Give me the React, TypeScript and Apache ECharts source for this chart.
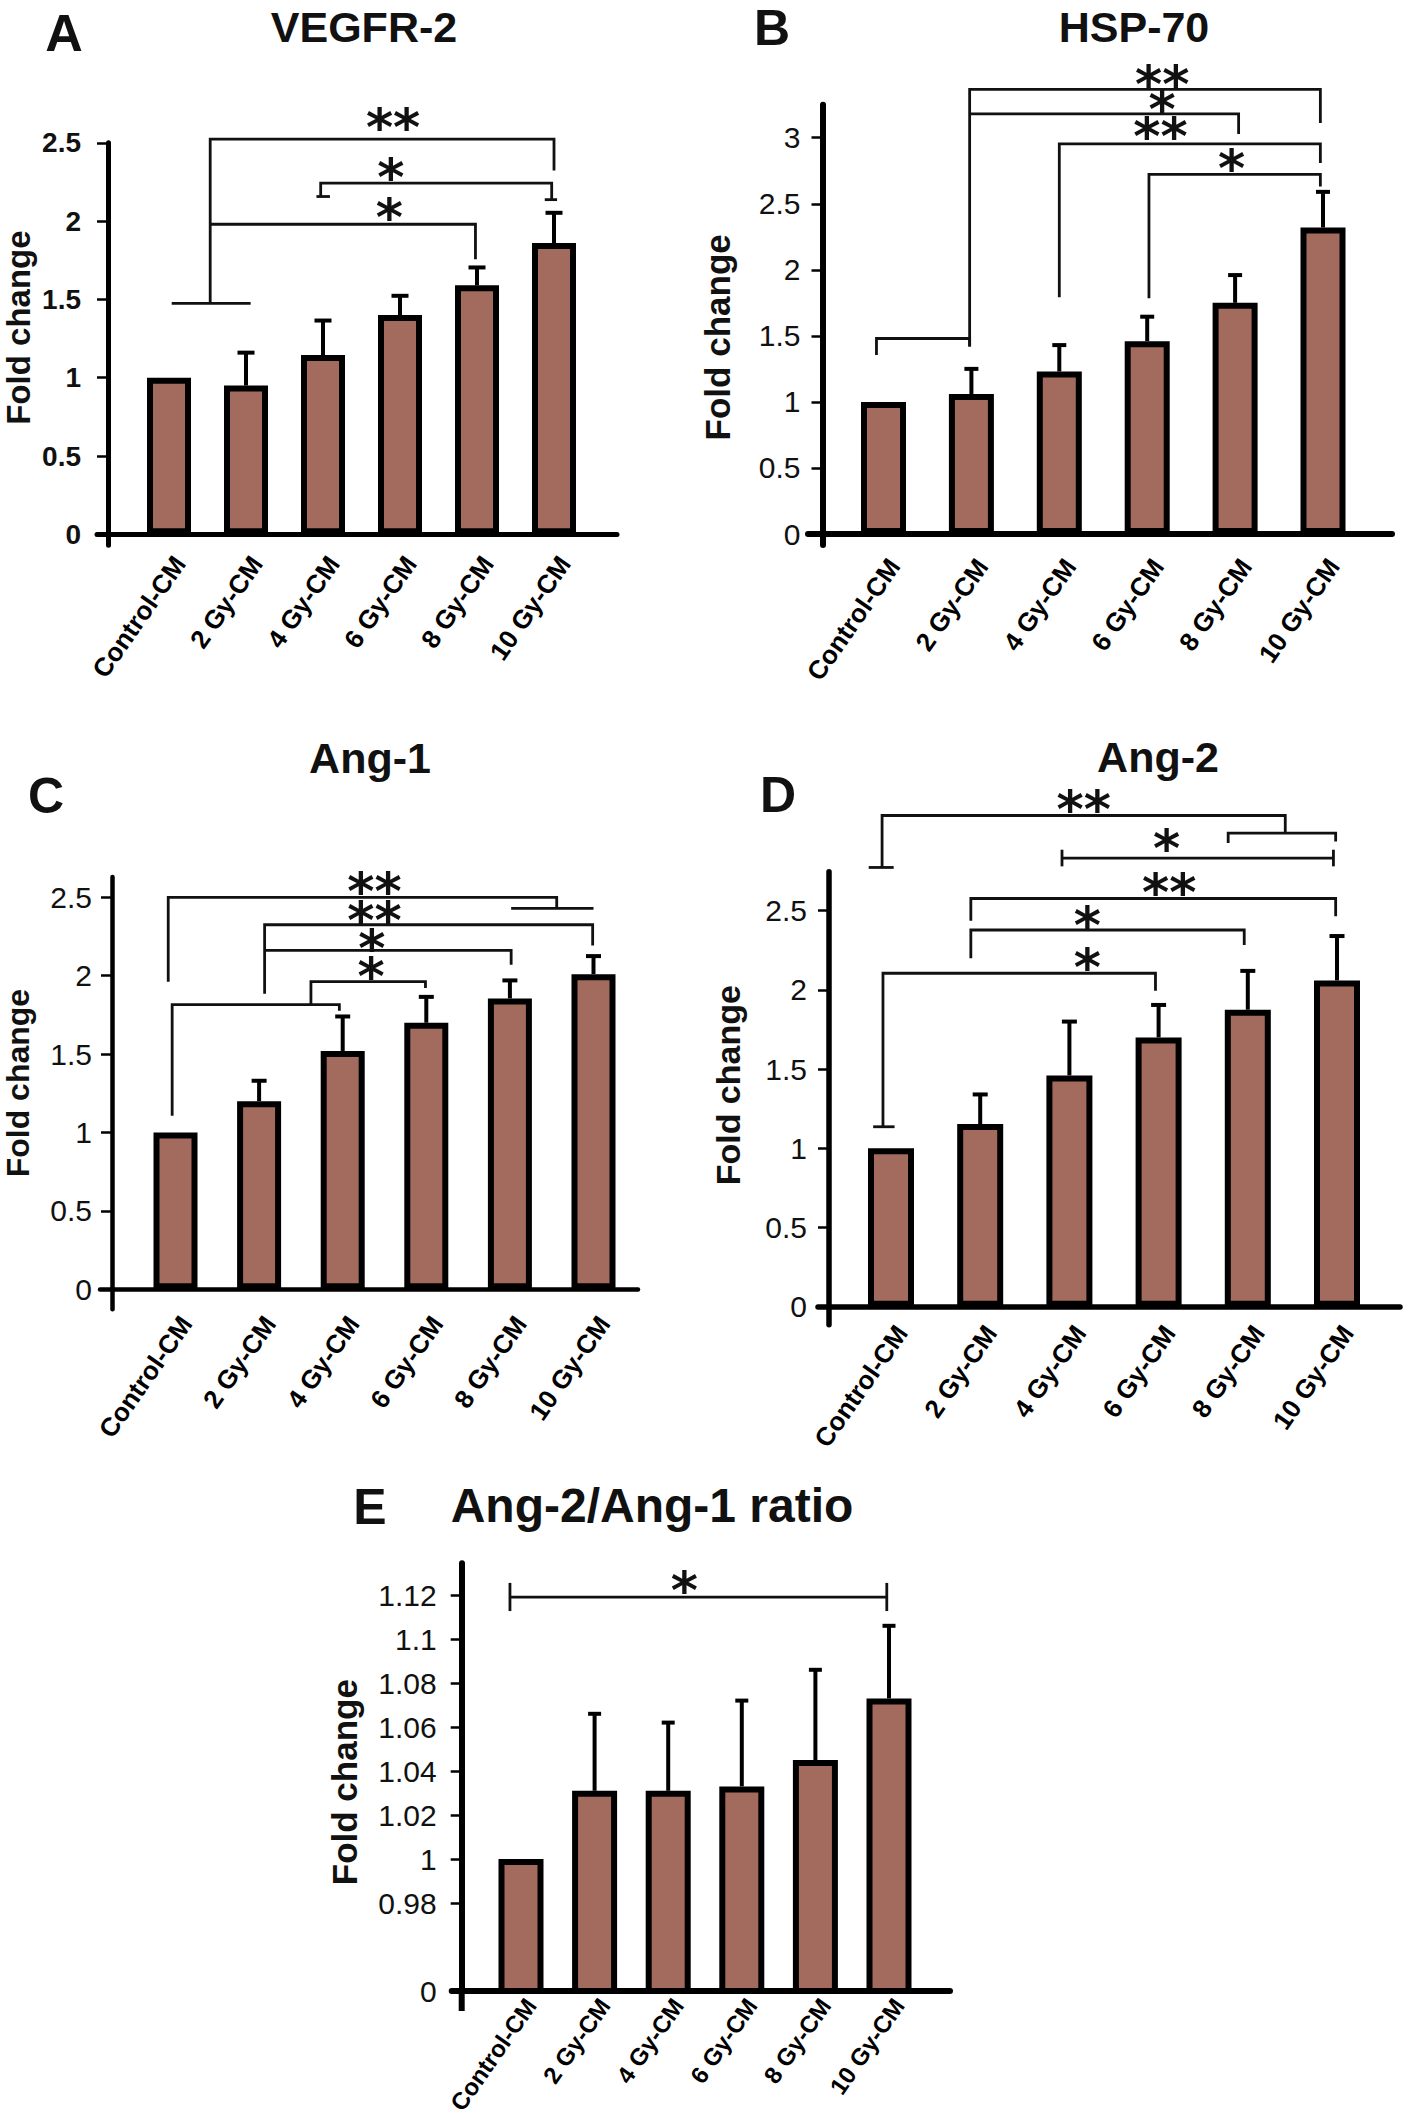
import React, { useEffect, useRef } from 'react';
import * as echarts from 'echarts';

// ---------------- data ----------------
const categories = ['Control-CM', '2 Gy-CM', '4 Gy-CM', '6 Gy-CM', '8 Gy-CM', '10 Gy-CM'];

const vegfrMean = [1.0, 0.95, 1.145, 1.4, 1.59, 1.86];
const vegfrErr = [0, 0.21, 0.22, 0.123, 0.114, 0.193];

const hspMean = [1.0, 1.06, 1.23, 1.46, 1.75, 2.32];
const hspErr = [0, 0.19, 0.2, 0.185, 0.21, 0.27];

const ang1Mean = [1.0, 1.2, 1.52, 1.7, 1.855, 2.01];
const ang1Err = [0, 0.13, 0.22, 0.165, 0.115, 0.115];

const ang2Mean = [1.0, 1.153, 1.46, 1.7, 1.875, 2.06];
const ang2Err = [0, 0.187, 0.34, 0.205, 0.245, 0.28];

const ratioMean = [1.0, 1.031, 1.031, 1.033, 1.045, 1.073];
const ratioErr = [0, 0.035, 0.031, 0.039, 0.041, 0.033];

const ticksA = [0, 0.5, 1, 1.5, 2, 2.5];
const ticksB = [0, 0.5, 1, 1.5, 2, 2.5, 3];
const ticksC = [0, 0.5, 1, 1.5, 2, 2.5];
const ticksD = [0, 0.5, 1, 1.5, 2, 2.5];
// panel E has a broken axis: the bottom tick is labelled "0"
const ticksE = [0.94, 0.98, 1, 1.02, 1.04, 1.06, 1.08, 1.1, 1.12];
const tickLabelsE = ['0', '0.98', '1', '1.02', '1.04', '1.06', '1.08', '1.1', '1.12'];

// significance brackets: polylines in (category index, value) units, label and its position
type Bracket = { lines: number[][][]; label?: string; at?: number[] };

const bracketsA: Bracket[] = [
  { lines: [[[0.035, 1.475], [1.06, 1.475]]] },
  { lines: [[[0.535, 1.475], [0.535, 2.524], [5.0, 2.524], [5.0, 2.323]]], label: '**', at: [2.91, 2.639] },
  {
    lines: [
      [[1.97, 2.157], [1.97, 2.243], [4.97, 2.243], [4.97, 2.137]],
      [[1.915, 2.157], [2.09, 2.157]],
      [[4.88, 2.137], [5.04, 2.137]],
    ],
    label: '*', at: [2.88, 2.323],
  },
  { lines: [[[0.535, 1.98], [3.98, 1.98], [3.98, 1.756]]], label: '*', at: [2.86, 2.064] },
];

const bracketsB: Bracket[] = [
  { lines: [[[-0.08, 1.355], [-0.08, 1.48], [0.98, 1.48], [0.98, 1.42]]] },
  { lines: [[[0.98, 1.42], [0.98, 3.366], [4.97, 3.366], [4.97, 3.112]]], label: '**', at: [3.17, 3.451] },
  { lines: [[[0.98, 3.18], [4.04, 3.18], [4.04, 3.028]]], label: '*', at: [3.17, 3.265] },
  { lines: [[[2.0, 1.793], [2.0, 2.953], [4.97, 2.953], [4.97, 2.808]]], label: '**', at: [3.15, 3.062] },
  { lines: [[[3.02, 1.784], [3.02, 2.723], [4.97, 2.723], [4.97, 2.63]]], label: '*', at: [3.96, 2.815] },
];

const bracketsC: Bracket[] = [
  {
    lines: [
      [[-0.087, 1.962], [-0.087, 2.5], [4.56, 2.5], [4.56, 2.43]],
      [[4.015, 2.43], [5.0, 2.43]],
    ],
    label: '**', at: [2.38, 2.577],
  },
  { lines: [[[1.066, 1.885], [1.066, 2.325], [4.99, 2.325], [4.99, 2.193]]], label: '**', at: [2.38, 2.392] },
  { lines: [[[1.066, 2.162], [4.015, 2.162], [4.015, 2.07]]], label: '*', at: [2.35, 2.214] },
  { lines: [[[1.62, 1.815], [1.62, 1.962], [2.99, 1.962], [2.99, 1.922]]], label: '*', at: [2.34, 2.039] },
  { lines: [[[-0.04, 1.107], [-0.04, 1.815], [1.96, 1.815], [1.96, 1.777]]] },
];

const bracketsD: Bracket[] = [
  {
    lines: [
      [[-0.1, 2.773], [-0.1, 3.101], [4.42, 3.101], [4.42, 2.99]],
      [[-0.25, 2.773], [0.03, 2.773]],
    ],
    label: '**', at: [2.16, 3.18],
  },
  { lines: [[[3.78, 2.927], [3.78, 2.99], [4.985, 2.99], [4.985, 2.937]]] },
  {
    lines: [
      [[1.917, 2.832], [4.96, 2.832]],
      [[1.917, 2.78], [1.917, 2.885]],
      [[4.96, 2.78], [4.96, 2.885]],
    ],
    label: '*', at: [3.09, 2.937],
  },
  { lines: [[[0.895, 2.437], [0.895, 2.577], [4.985, 2.577], [4.985, 2.465]]], label: '**', at: [3.12, 2.657] },
  { lines: [[[0.895, 2.2], [0.895, 2.378], [3.96, 2.378], [3.96, 2.283]]], label: '*', at: [2.2, 2.448] },
  {
    lines: [
      [[-0.09, 1.136], [-0.09, 2.105], [2.965, 2.105], [2.965, 1.994]],
      [[-0.2, 1.136], [0.04, 1.136]],
    ],
    label: '*', at: [2.2, 2.185],
  },
];

const bracketsE: Bracket[] = [
  {
    lines: [
      [[-0.15, 1.119], [4.97, 1.119]],
      [[-0.15, 1.1127], [-0.15, 1.1255]],
      [[4.97, 1.1127], [4.97, 1.1255]],
    ],
    label: '*', at: [2.22, 1.1252],
  },
];

// ---------------- styling / layout ----------------
const FONT = '"Liberation Sans", Arial, Helvetica, sans-serif';
const STAR_FONT = '"DejaVu Sans", sans-serif';
const STAR_SIZE = 52;
const BAR_FILL = '#a36b5e';

interface Layout {
  xStart: number; xEnd: number; yAxisX: number; zeroY: number; pxPerUnit: number;
  yBase: number; yMax: number; ext: number; bar0: number; step: number; barW: number;
  axisW: number; tickFont: number; tickBold: boolean; tickMargin: number;
  nameGap: number; nameSize: number; namePadL: number; namePadR: number;
  labelMargin: number; labelSize: number; capW: number;
}

const layoutA: Layout = {
  xStart: 97, xEnd: 617, yAxisX: 108, zeroY: 534.3, pxPerUnit: 156.6, yBase: 0, yMax: 2.5, ext: 11,
  bar0: 169, step: 77, barW: 44, axisW: 5, tickFont: 28, tickBold: true, tickMargin: 27,
  nameGap: 73, nameSize: 33, namePadL: 33, namePadR: 0, labelMargin: 6, labelSize: 26, capW: 17,
};
const layoutB: Layout = {
  xStart: 808, xEnd: 1392, yAxisX: 822.5, zeroY: 534, pxPerUnit: 132.1, yBase: 0, yMax: 3.25, ext: 11,
  bar0: 883.5, step: 87.9, barW: 45, axisW: 6, tickFont: 30, tickBold: false, tickMargin: 22,
  nameGap: 88, nameSize: 35, namePadL: 0, namePadR: 25, labelMargin: 9, labelSize: 26, capW: 14,
};
const layoutC: Layout = {
  xStart: 100, xEnd: 638, yAxisX: 112, zeroY: 1289.3, pxPerUnit: 156.8, yBase: 0, yMax: 2.63, ext: 20,
  bar0: 175.5, step: 83.6, barW: 44, axisW: 4.5, tickFont: 30, tickBold: false, tickMargin: 20,
  nameGap: 78, nameSize: 32, namePadL: 20, namePadR: 0, labelMargin: 2, labelSize: 26, capW: 15,
};
const layoutD: Layout = {
  xStart: 818, xEnd: 1400, yAxisX: 829, zeroY: 1306.7, pxPerUnit: 158.4, yBase: 0, yMax: 2.746, ext: 18,
  bar0: 891, step: 89.2, barW: 46, axisW: 5.5, tickFont: 30, tickBold: false, tickMargin: 22,
  nameGap: 84, nameSize: 34, namePadL: 26, namePadR: 0, labelMargin: -4, labelSize: 26, capW: 15,
};
const layoutE: Layout = {
  xStart: 451.7, xEnd: 950, yAxisX: 461.7, zeroY: 1991, pxPerUnit: 2200, yBase: 0.94, yMax: 1.1344, ext: 0,
  bar0: 521, step: 73.6, barW: 45, axisW: 6, tickFont: 30, tickBold: false, tickMargin: 25,
  nameGap: 100, nameSize: 35, namePadL: 0, namePadR: 10, labelMargin: 3, labelSize: 24, capW: 13,
};

function buildPanel(
  i: number, L: Layout, mean: number[], err: number[], ticks: number[],
  tickLabels: string[] | null, brackets: Bracket[],
) {
  const gridTop = L.zeroY - (L.yMax - L.yBase) * L.pxPerUnit;
  const gridBottom = L.zeroY + L.ext;
  const grid = {
    left: L.xStart, top: gridTop, width: L.xEnd - L.xStart, height: gridBottom - gridTop,
    containLabel: false, outerBoundsMode: 'none',
  };
  const xAxis = {
    type: 'value', gridIndex: i,
    min: (L.xStart - L.bar0) / L.step, max: (L.xEnd - L.bar0) / L.step,
    axisLine: { show: true, onZero: true, lineStyle: { color: '#000', width: L.axisW } },
    axisTick: { show: false },
    splitLine: { show: false },
    axisLabel: {
      customValues: categories.map((_, k) => k),
      formatter: (v: number) => categories[Math.round(v)] || '',
      rotate: 55, align: 'right', verticalAlign: 'top', margin: L.labelMargin,
      fontFamily: FONT, fontWeight: 'bold', fontSize: L.labelSize, color: '#000',
    },
  };
  const yAxis = {
    type: 'value', gridIndex: i,
    min: L.yBase - L.ext / L.pxPerUnit, max: L.yMax,
    offset: -(L.yAxisX - L.xStart),
    axisLine: { show: true, onZero: false, lineStyle: { color: '#000', width: L.axisW } },
    axisTick: { show: true, customValues: ticks, length: 11, lineStyle: { color: '#000', width: 2.5 } },
    splitLine: { show: false },
    axisLabel: {
      customValues: ticks,
      formatter: (v: number) => {
        if (tickLabels) {
          const k = ticks.findIndex((t) => Math.abs(t - v) < 1e-6);
          return k >= 0 ? tickLabels[k] : '';
        }
        return String(parseFloat(v.toFixed(2)));
      },
      margin: L.tickMargin, fontFamily: FONT, fontSize: L.tickFont,
      fontWeight: L.tickBold ? 'bold' : 'normal', color: '#111',
    },
    name: 'Fold change', nameLocation: 'middle', nameGap: L.nameGap, nameRotate: 90,
    nameTextStyle: {
      fontFamily: FONT, fontWeight: 'bold', fontSize: L.nameSize, color: '#111',
      lineHeight: L.nameSize, padding: [0, L.namePadR, 0, L.namePadL],
    },
  };
  const bars = {
    type: 'bar', xAxisIndex: i, yAxisIndex: i,
    data: mean.map((v, k) => [k, v]),
    barWidth: L.barW,
    itemStyle: { color: BAR_FILL, borderColor: '#000', borderWidth: 6 },
    z: 2, silent: true,
  };
  const errorBars = {
    type: 'custom', xAxisIndex: i, yAxisIndex: i, clip: false, z: 3, silent: true,
    data: mean.map((v, k) => [k, v, err[k]]),
    encode: { x: 0, y: 1 },
    renderItem: (params: any, api: any) => {
      const x = api.value(0);
      const v = api.value(1);
      const e = api.value(2);
      if (!e) return null;
      const base = api.coord([x, v]);
      const top = api.coord([x, v + e]);
      return {
        type: 'group',
        children: [
          { type: 'line', shape: { x1: base[0], y1: base[1], x2: top[0], y2: top[1] }, style: { stroke: '#000', lineWidth: 4 } },
          { type: 'line', shape: { x1: top[0] - L.capW / 2, y1: top[1], x2: top[0] + L.capW / 2, y2: top[1] }, style: { stroke: '#000', lineWidth: 4 } },
        ],
      };
    },
  };
  const bracketSeries = {
    type: 'custom', xAxisIndex: i, yAxisIndex: i, clip: false, z: 4, silent: true,
    data: brackets.map((b) => b.lines[0][0]),
    encode: { x: 0, y: 1 },
    renderItem: (params: any, api: any) => {
      const b = brackets[params.dataIndex];
      const children: any[] = b.lines.map((line) => ({
        type: 'polyline',
        shape: { points: line.map((pt) => api.coord(pt)) },
        style: { stroke: '#111', lineWidth: 2.8, fill: 'none' },
      }));
      if (b.label && b.at) {
        const p = api.coord(b.at);
        children.push({
          type: 'text', x: p[0], y: p[1] + 0.12 * STAR_SIZE,
          style: {
            text: b.label, font: `bold ${STAR_SIZE}px ${STAR_FONT}`, fill: '#111',
            lineHeight: STAR_SIZE * 0.4,
            align: 'center', verticalAlign: 'middle', textAlign: 'center', textVerticalAlign: 'middle',
          },
        });
      }
      return { type: 'group', children };
    },
  };
  return { grid, xAxis, yAxis, series: [bars, errorBars, bracketSeries] };
}

function textEl(text: string, x: number, y: number, size: number) {
  return {
    type: 'text', x, y,
    style: {
      text, font: `bold ${size}px ${FONT}`, fill: '#111', lineHeight: size,
      align: 'center', verticalAlign: 'middle', textAlign: 'center', textVerticalAlign: 'middle',
    },
  };
}

export default function App() {
  const ref = useRef<HTMLDivElement>(null);
  useEffect(() => {
    if (!ref.current) return;
    const chart = echarts.init(ref.current, null, { renderer: 'svg' });
    const panels = [
      buildPanel(0, layoutA, vegfrMean, vegfrErr, ticksA, null, bracketsA),
      buildPanel(1, layoutB, hspMean, hspErr, ticksB, null, bracketsB),
      buildPanel(2, layoutC, ang1Mean, ang1Err, ticksC, null, bracketsC),
      buildPanel(3, layoutD, ang2Mean, ang2Err, ticksD, null, bracketsD),
      buildPanel(4, layoutE, ratioMean, ratioErr, ticksE, tickLabelsE, bracketsE),
    ];
    const option: any = {
      animation: false,
      backgroundColor: '#fff',
      grid: panels.map((p) => p.grid),
      xAxis: panels.map((p) => p.xAxis),
      yAxis: panels.map((p) => p.yAxis),
      series: panels.flatMap((p) => p.series),
      graphic: [
        textEl('A', 64, 33, 52),
        textEl('VEGFR-2', 364, 27, 43),
        textEl('B', 772, 28, 50),
        textEl('HSP-70', 1134, 27, 43),
        textEl('C', 46, 796, 50),
        textEl('Ang-1', 370, 758, 43),
        textEl('D', 778, 795, 50),
        textEl('Ang-2', 1158, 757, 43),
        textEl('E', 370, 1507, 50),
        textEl('Ang-2/Ang-1 ratio', 652, 1505, 48),
        // short extension of the E y-axis below its x-axis, as in the figure
        {
          type: 'line',
          shape: { x1: layoutE.yAxisX, y1: layoutE.zeroY, x2: layoutE.yAxisX, y2: layoutE.zeroY + 20 },
          style: { stroke: '#000', lineWidth: layoutE.axisW },
        },
      ],
    };
    chart.setOption(option);
    return () => chart.dispose();
  }, []);
  return (
    <div
      ref={ref}
      style={{ position: 'absolute', left: 0, top: 0, width: 1418, height: 2125, background: '#fff' }}
    />
  );
}
